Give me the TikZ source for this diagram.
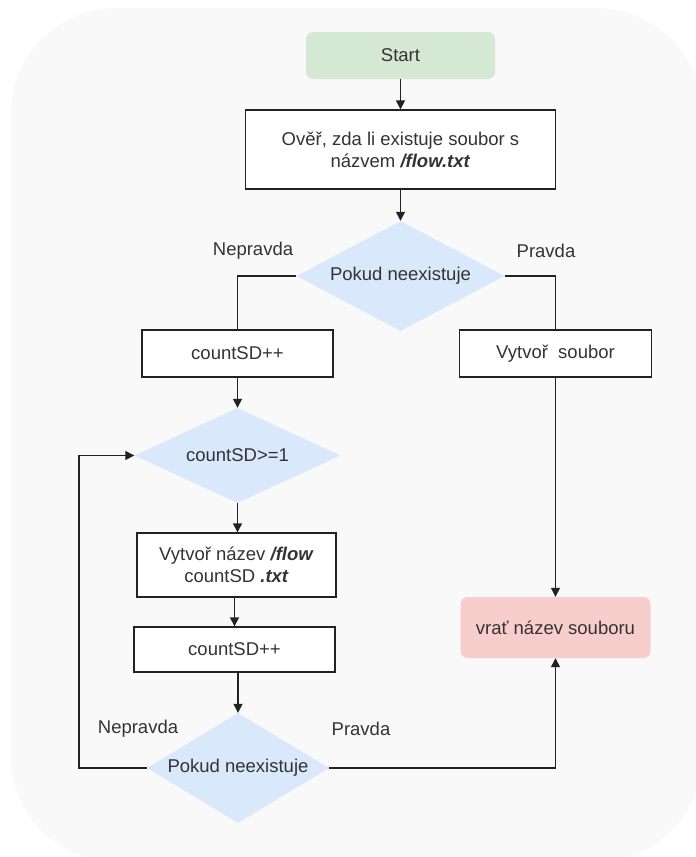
\documentclass[tikz,border=0pt]{standalone}
\usepackage{fontspec}
\setmainfont{Liberation Sans}
\usetikzlibrary{shapes.geometric,arrows.meta}
\definecolor{bgc}{HTML}{F9F9F9}
\definecolor{txt}{HTML}{333333}
\definecolor{greenf}{HTML}{D5E8D4}
\definecolor{bluef}{HTML}{DAE8FC}
\definecolor{pinkf}{HTML}{F8CECC}
\definecolor{linec}{HTML}{222222}
\tikzset{
  every node/.style={font=\fontsize{18.5}{22}\selectfont, text=txt, inner sep=0pt},
  procbox/.style={draw=linec, line width=1.3pt, fill=white, rectangle, align=center},
  termbox/.style={rectangle, rounded corners=7pt, align=center},
  decis/.style={diamond, fill=bluef, inner sep=0pt},
  conn/.style={draw=linec, line width=1.3pt},
  arr/.style={conn, -{Triangle[length=9pt,width=9pt]}},
  lbl/.style={font=\fontsize{18.5}{22}\selectfont}
}
\begin{document}
\begin{tikzpicture}[x=1pt,y=-1pt]
\useasboundingbox (0,0) rectangle (696,857);
\fill[bgc, rounded corners=105pt] (11,8) rectangle (702,862);

\node[termbox, fill=greenf, minimum width=189pt, minimum height=47pt] (start) at (400.5,55.5) {Start};
\node[procbox, minimum width=310pt, minimum height=79pt] (check) at (400.5,149.5) {Ověř, zda li existuje soubor s\\názvem \textbf{\textit{/flow.txt}}};
\node[decis, aspect=1.89, minimum width=208pt, minimum height=110pt] (d1) at (400.5,276) {Pokud neexistuje};
\node[procbox, minimum width=191pt, minimum height=47pt] (inc1) at (237.5,353.5) {countSD++};
\node[procbox, minimum width=192pt, minimum height=47pt] (create) at (555.5,353.5) {Vytvoř\ \ soubor};
\node[decis, aspect=2.17, minimum width=206pt, minimum height=95pt] (d2) at (237.5,455.5) {countSD>=1};
\node[procbox, minimum width=199pt, minimum height=64pt] (name) at (236.5,565) {Vytvoř název \textbf{\textit{/flow}}\\countSD \textbf{\textit{.txt}}};
\node[procbox, minimum width=201pt, minimum height=45pt] (inc2) at (234.5,649.5) {countSD++};
\node[decis, aspect=1.65, minimum width=182pt, minimum height=110pt] (d3) at (238,768) {Pokud neexistuje};
\node[termbox, fill=pinkf, minimum width=190pt, minimum height=61pt] (ret) at (555.5,627.5) {vrať název souboru};

\node[lbl] (l1) at (253,251) {Nepravda};
\node[lbl] (l2) at (546,251) {Pravda};
\node[lbl] (l3) at (138,729) {Nepravda};
\node[lbl] (l4) at (361,729) {Pravda};

\coordinate (loopc) at (79,768);
\coordinate (loopt) at (79,455.5);

\draw[arr] (start) -- (check);
\draw[arr] (check) -- (d1);
\draw[conn] (d1.west) -| (inc1.north);
\draw[conn] (d1.east) -| (create.north);
\draw[arr] (inc1) -- (d2);
\draw[arr] (d2.south) -- (d2.south |- name.north);
\draw[arr] (name.south -| inc2.north) -- (inc2.north);
\draw[arr] (inc2.south -| d3.north) -- (d3.north);
\draw[arr] (d3.west) -- (loopc) -- (loopt) -- (d2.west);
\draw[arr] (d3.east) -| (ret.south);
\draw[arr] (create) -- (ret);
\end{tikzpicture}
\end{document}
